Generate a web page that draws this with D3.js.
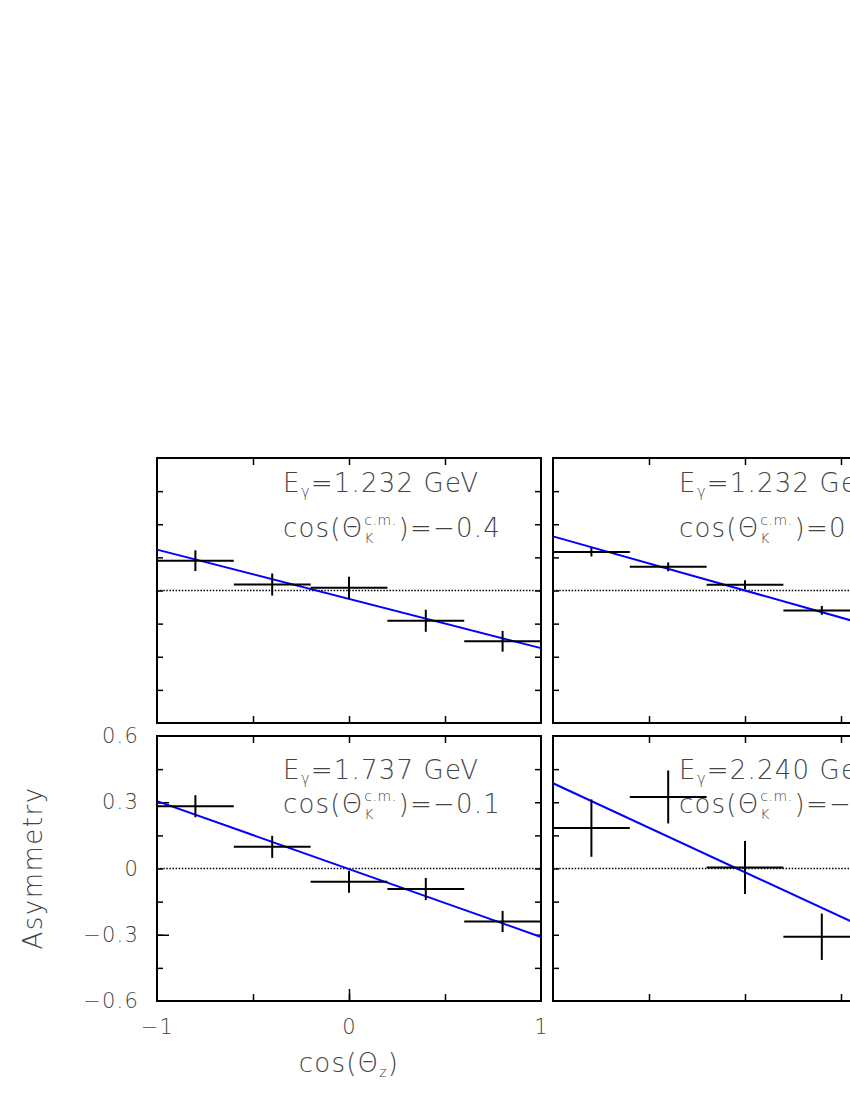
<!DOCTYPE html>
<html>
<head>
<meta charset="utf-8">
<script src="https://cdn.jsdelivr.net/npm/d3@7"></script>
<style>
body{margin:0;background:#fff;}
text{font-family:"DejaVu Sans ExtraLight","DejaVu Sans",sans-serif;font-weight:200;fill:#444;}
</style>
</head>
<body>
<svg id="chart"></svg>
<script>
const width=850;
const height=1100;

// cos(theta_z) bins, each +-0.2 wide
const binCentres=[-0.8,-0.4,0,0.4,0.8];
const binHalf=0.2;

// panel labels
const energies=['1.232','1.232','1.737','2.240'];
const cosK=['\u22120.4','0.2','\u22120.1','\u22120.4'];

// asymmetry values and errors
const asymTL=[0.135,0.027,0.012,-0.137,-0.23];
const errTL=[0.047,0.05,0.05,0.05,0.047];
const asymTR=[0.174,0.107,0.026,-0.09];
const errTR=[0.02,0.02,0.02,0.02];
const asymBL=[0.282,0.098,-0.06,-0.093,-0.24];
const errBL=[0.05,0.05,0.05,0.05,0.048];
const asymBR=[0.183,0.324,0.005,-0.309];
const errBR=[0.13,0.12,0.12,0.105];

// fitted line, value at cos=-1 and cos=1
const fitTL=[0.185,-0.261];
const fitTR=[0.245,-0.245];
const fitBL=[0.305,-0.31];
const fitBR=[0.386,-0.42];

// ticks
const yMinor=[-0.45,-0.3,-0.15,0,0.15,0.3,0.45];
const yLabels=[-0.6,-0.3,0,0.3,0.6];
const xMinor=[-0.5,0,0.5];
const xLabels=[-1,0,1];

const PW=384, PH=265;
const panels=[
  {x0:157,y0:458,asym:asymTL,err:errTL,fit:fitTL,e:energies[0],c:cosK[0],b1:492,b2:537,labels:false},
  {x0:553,y0:458,asym:asymTR,err:errTR,fit:fitTR,e:energies[1],c:cosK[1],b1:492,b2:537,labels:false},
  {x0:157,y0:736,asym:asymBL,err:errBL,fit:fitBL,e:energies[2],c:cosK[2],b1:779,b2:813,labels:true},
  {x0:553,y0:736,asym:asymBR,err:errBR,fit:fitBR,e:energies[3],c:cosK[3],b1:779,b2:813,labels:false}
];

const svg=d3.select('#chart').attr('width',width).attr('height',height);

const x=d3.scaleLinear().domain([-1,1]).range([0,PW]);
const y=d3.scaleLinear().domain([-0.6,0.6]).range([PH,0]);

const fmt=d=>d===0?'0':d3.format('.1f')(d);
const fmtX=d=>d===0?'0':d3.format('d')(d);

panels.forEach(function(p){
  const g=svg.append('g').attr('transform','translate('+p.x0+','+p.y0+')');

  // zero line
  g.append('line')
    .attr('x1',x(-1)).attr('x2',x(1))
    .attr('y1',y(0)).attr('y2',y(0))
    .attr('stroke','#000').attr('stroke-width',1.4)
    .attr('stroke-dasharray','1.5,1.6');

  // inward ticks
  g.append('g').call(d3.axisLeft(y).tickValues(yMinor).tickSize(-6).tickFormat(''));
  g.append('g').attr('transform','translate('+PW+',0)')
    .call(d3.axisRight(y).tickValues(yMinor).tickSize(-6).tickFormat(''));
  g.append('g').attr('transform','translate(0,'+PH+')')
    .call(d3.axisBottom(x).tickValues(xMinor).tickSize(-7).tickFormat(''));
  g.append('g').call(d3.axisTop(x).tickValues(xMinor).tickSize(-7).tickFormat(''));

  if(p.labels){
    g.append('g').call(d3.axisLeft(y).tickValues([-0.3,0.3]).tickSize(-12).tickFormat(''));
    g.append('g').attr('transform','translate(0,'+PH+')')
      .call(d3.axisBottom(x).tickValues([0]).tickSize(-12).tickFormat(''));
    const yl=g.append('g').call(d3.axisLeft(y).tickValues(yLabels).tickSize(0).tickPadding(18).tickFormat(fmt));
    yl.selectAll('text').attr('font-size',21).attr('font-family',null).attr('letter-spacing',1.2);
    const xl=g.append('g').attr('transform','translate(0,'+PH+')')
      .call(d3.axisBottom(x).tickValues(xLabels).tickSize(0).tickPadding(18).tickFormat(fmtX));
    xl.selectAll('text').attr('font-size',21).attr('font-family',null).attr('letter-spacing',1.2);
  }
  g.selectAll('.domain').remove();
  g.selectAll('.tick line').attr('stroke','#000').attr('stroke-width',1.5);

  // frame
  g.append('rect').attr('x',0).attr('y',0).attr('width',PW).attr('height',PH)
    .attr('fill','none').attr('stroke','#000').attr('stroke-width',2);

  // fit line
  g.append('line')
    .attr('x1',x(-1)).attr('y1',y(p.fit[0]))
    .attr('x2',x(1)).attr('y2',y(p.fit[1]))
    .attr('stroke','#0000ff').attr('stroke-width',2);

  // data points with error bars
  const pts=g.selectAll('.pt').data(p.asym.map((v,i)=>({c:binCentres[i],v:v,e:p.err[i]})))
    .enter().append('g').attr('class','pt');
  pts.append('line')
    .attr('x1',d=>x(d.c-binHalf)).attr('x2',d=>x(d.c+binHalf))
    .attr('y1',d=>y(d.v)).attr('y2',d=>y(d.v))
    .attr('stroke','#000').attr('stroke-width',2);
  pts.append('line')
    .attr('x1',d=>x(d.c)).attr('x2',d=>x(d.c))
    .attr('y1',d=>y(d.v-d.e)).attr('y2',d=>y(d.v+d.e))
    .attr('stroke','#000').attr('stroke-width',2);

  // panel text
  const tx=126;
  const fs=26;
  const l1=g.append('text').attr('x',tx).attr('y',p.b1-p.y0).attr('font-size',fs).attr('letter-spacing',1.2);
  l1.append('tspan').text('E');
  l1.append('tspan').attr('font-size',15).attr('dy',5).text('\u03b3');
  l1.append('tspan').attr('dy',-5).text('='+p.e+' GeV');

  const base2=p.b2-p.y0;
  const a=g.append('text').attr('x',tx).attr('y',base2).attr('font-size',fs).attr('letter-spacing',1.2).text('cos(\u0398');
  const wa=a.node().getComputedTextLength();
  const sup=g.append('text').attr('x',tx+wa+1).attr('y',base2-12).attr('font-size',14).attr('letter-spacing',0.5).text('c.m.');
  const sub=g.append('text').attr('x',tx+wa+1).attr('y',base2+6).attr('font-size',14).text('K');
  const ws=Math.max(sup.node().getComputedTextLength(),sub.node().getComputedTextLength());
  g.append('text').attr('x',tx+wa+ws+3).attr('y',base2).attr('font-size',fs).attr('letter-spacing',1.2).text(')='+p.c);
});

// axis titles
svg.append('text')
  .attr('transform','translate(42,868) rotate(-90)')
  .attr('text-anchor','middle').attr('font-size',26).attr('letter-spacing',1.5)
  .text('Asymmetry');

const xt=svg.append('text').attr('x',349).attr('y',1072).attr('text-anchor','middle').attr('font-size',26).attr('letter-spacing',1.2);
xt.append('tspan').text('cos(\u0398');
xt.append('tspan').attr('font-size',14).attr('dy',5).text('z');
xt.append('tspan').attr('dy',-5).text(')');
</script>
</body>
</html>
